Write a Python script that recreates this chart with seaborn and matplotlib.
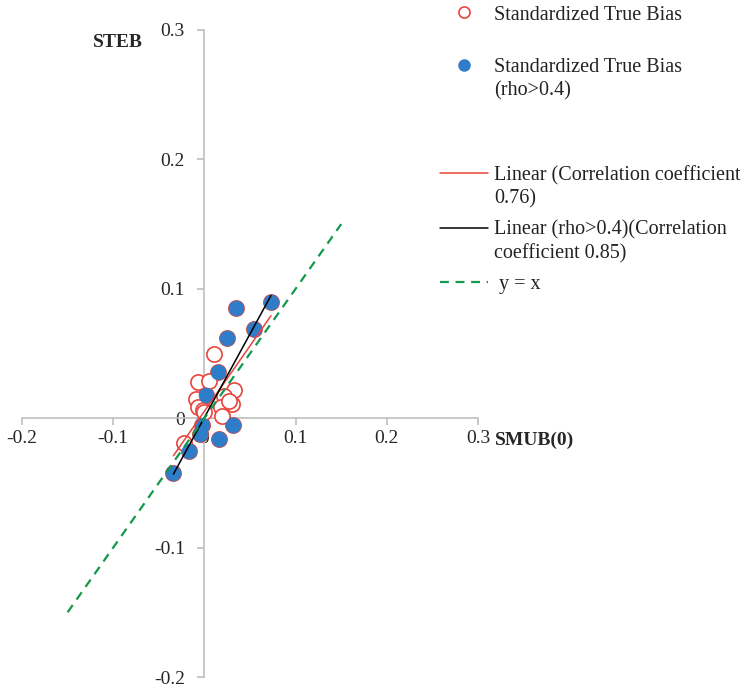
import numpy as np
import pandas as pd
import seaborn as sns
import matplotlib.pyplot as plt
from matplotlib.lines import Line2D
from matplotlib.ticker import FuncFormatter

# points with rho > 0.4 (filled blue)
hi_smub = [0.073, 0.035, 0.054, 0.025, 0.015, 0.002, -0.003, -0.005, 0.031, 0.016, -0.017, -0.034]
hi_steb = [0.090, 0.085, 0.069, 0.062, 0.036, 0.018, -0.005, -0.012, -0.005, -0.016, -0.025, -0.042]
# remaining points (open red only)
lo_smub = [0.0105, -0.0075, 0.005, 0.033, 0.021, 0.030, 0.018, -0.009, -0.007, -0.002, 0.027, 0.000, 0.019, -0.022]
lo_steb = [0.050, 0.028, 0.029, 0.0215, 0.017, 0.011, 0.009, 0.015, 0.009, 0.006, 0.013, 0.005, 0.002, -0.019]
ticks = [-0.2, -0.1, 0, 0.1, 0.2, 0.3]
diag = [-0.15, 0.15]

hi = pd.DataFrame({'SMUB': hi_smub, 'STEB': hi_steb})
allpts = pd.DataFrame({'SMUB': hi_smub + lo_smub, 'STEB': hi_steb + lo_steb})

red = '#E8453C'
blue = '#2F7DC8'
green = '#14984C'
grey = '#BFBFBF'

sns.set_style('white')
plt.rcParams['font.family'] = ['Liberation Serif', 'DejaVu Serif']
plt.rcParams['axes.unicode_minus'] = False

fig = plt.figure(figsize=(7.48, 6.88), dpi=100)
ax = fig.add_axes([22 / 748, 11 / 688, 456 / 748, 647 / 688])

sns.scatterplot(x='SMUB', y='STEB', data=allpts, ax=ax, s=120, facecolor='white',
                edgecolor=red, linewidth=1.2, zorder=3)
sns.scatterplot(x='SMUB', y='STEB', data=hi, ax=ax, s=115, color=blue,
                edgecolor=blue, linewidth=0.5, zorder=4)
sns.regplot(x='SMUB', y='STEB', data=allpts, ax=ax, scatter=False, ci=None,
            line_kws={'color': red, 'lw': 1.1, 'zorder': 5})
sns.regplot(x='SMUB', y='STEB', data=hi, ax=ax, scatter=False, ci=None,
            line_kws={'color': 'black', 'lw': 1.1, 'zorder': 6})
sns.lineplot(x=diag, y=diag, ax=ax, color=green, lw=1.6, linestyle=(0, (4, 3)), zorder=7)

ax.set_xlim(-0.2, 0.3)
ax.set_ylim(-0.2, 0.3)
ax.set_xticks(ticks)
ax.set_yticks(ticks)
fmt = FuncFormatter(lambda v, p: f'{v:g}')
ax.xaxis.set_major_formatter(fmt)
ax.yaxis.set_major_formatter(fmt)

for side in ['top', 'right']:
    ax.spines[side].set_visible(False)
for side in ['left', 'bottom']:
    ax.spines[side].set_position(('data', 0))
    ax.spines[side].set_color(grey)
    ax.spines[side].set_linewidth(1.2)
ax.tick_params(axis='x', direction='out', length=5, width=1.2, color=grey,
               labelsize=14, pad=3.5, bottom=True)
ax.tick_params(axis='y', direction='out', length=5, width=1.2, color=grey,
               labelsize=14, pad=9, left=True)
ax.patch.set_alpha(0)

ax.set_xlabel('SMUB(0)', fontsize=14, fontweight='bold')
ax.xaxis.set_label_coords(1.125, 0.379)
ax.set_ylabel('STEB', fontsize=14, fontweight='bold', rotation=0, va='center', ha='center')
ax.yaxis.set_label_coords(0.2105, 0.981)

# legend, built in groups so the keys sit on the first line of each label
blank = Line2D([], [], linestyle='none')
key_open = Line2D([], [], linestyle='none', marker='o', ms=8, mfc='white', mec=red, mew=1.2)
key_fill = Line2D([], [], linestyle='none', marker='o', ms=8, mfc=blue, mec=blue)
key_red = Line2D([], [], color=red, lw=1.1)
key_black = Line2D([], [], color='black', lw=1.1)
key_green = Line2D([], [], color=green, lw=1.6, linestyle=(0, (4, 3)))

groups = [
    ([key_open], ['Standardized True Bias'], 15),
    ([key_fill, blank], ['Standardized True Bias', '(rho>0.4)'], 79),
    ([key_red, blank], ['Linear (Correlation coefficient', '0.76)'], 187),
    ([key_black, blank], ['Linear (rho>0.4)(Correlation', 'coefficient 0.85)'], 242),
    ([key_green], [' y = x'], 284),
]
for handles, labels, ypix in groups:
    leg = fig.legend(handles, labels, loc='center left', bbox_to_anchor=(440 / 748, 1 - ypix / 688),
                     frameon=False, borderpad=0, borderaxespad=0, handlelength=2.4,
                     handletextpad=0.3, labelspacing=0.2, fontsize=14.5)
    for t in leg.get_texts():
        t.set_color('#222222')

fig.savefig('out.png', dpi=100)
